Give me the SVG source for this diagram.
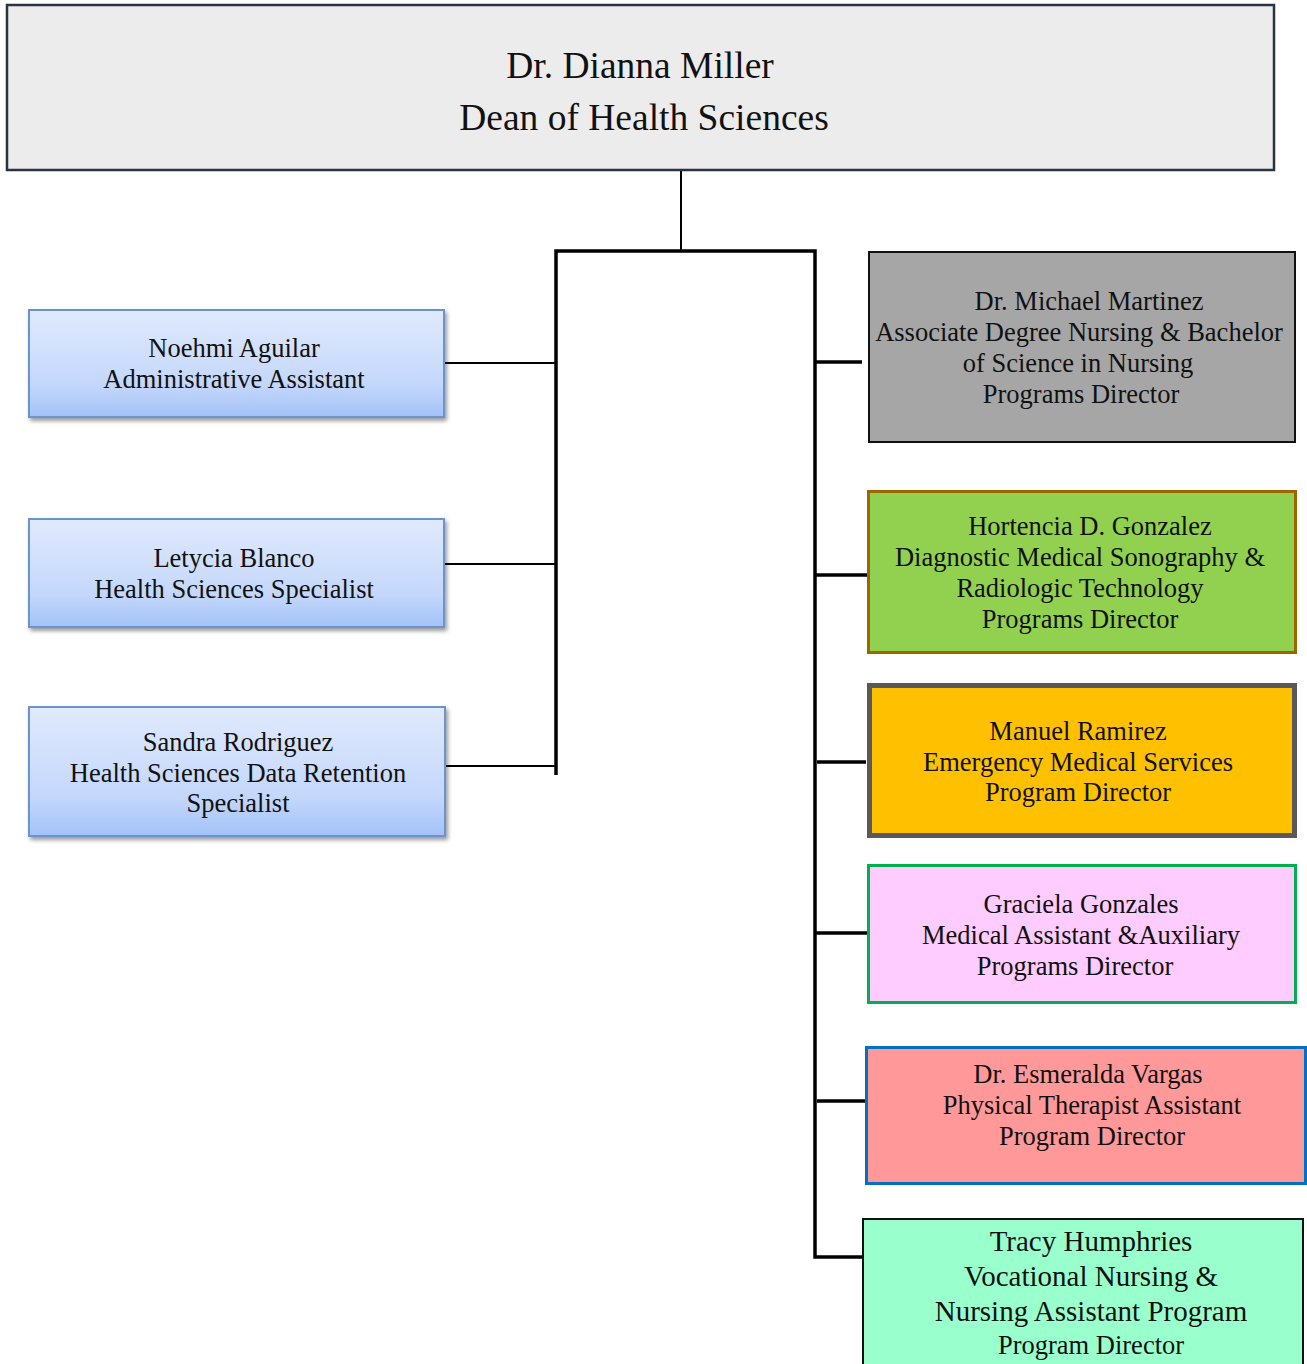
<svg xmlns="http://www.w3.org/2000/svg" width="1307" height="1364" viewBox="0 0 1307 1364">
<defs>
<linearGradient id="blueGrad" x1="0" y1="0" x2="0" y2="1">
<stop offset="0" stop-color="#e0eafd"/>
<stop offset="0.7" stop-color="#c4d7fb"/>
<stop offset="1" stop-color="#a3c2f8"/>
</linearGradient>
<filter id="shadow" x="-5%" y="-10%" width="115%" height="130%">
<feGaussianBlur in="SourceAlpha" stdDeviation="2"/>
<feOffset dx="2" dy="3" result="b"/>
<feComponentTransfer><feFuncA type="linear" slope="0.4"/></feComponentTransfer>
<feMerge><feMergeNode/><feMergeNode in="SourceGraphic"/></feMerge>
</filter>
</defs>
<style>
text{font-family:"Liberation Serif","Times New Roman",serif;fill:#111;text-anchor:middle;}
.t{font-size:26.5px;}
.big{font-size:37.5px;}
.t6{font-size:29px;}
.blue{fill:url(#blueGrad);stroke:#6b93d0;stroke-width:2;}
.thin{stroke:#000;stroke-width:2;fill:none;}
.thick{stroke:#000;stroke-width:3.5;fill:none;}
</style>
<rect width="1307" height="1364" fill="#fff"/>
<g id="connectors">
<line class="thin" x1="681" y1="170" x2="681" y2="251"/>
<polyline class="thick" points="556,775 556,251 815,251 815,1257 863,1257"/>
<line class="thin" x1="444" y1="363" x2="556" y2="363"/>
<line class="thin" x1="442" y1="564" x2="556" y2="564"/>
<line class="thin" x1="444" y1="766" x2="556" y2="766"/>
<line class="thick" x1="815" y1="362" x2="862" y2="362"/>
<line class="thick" x1="815" y1="575" x2="867" y2="575"/>
<line class="thick" x1="817" y1="762" x2="866" y2="762"/>
<line class="thick" x1="815" y1="933" x2="867" y2="933"/>
<line class="thick" x1="817" y1="1101" x2="865" y2="1101"/>
</g>
<g id="dean">
<rect x="7" y="5" width="1267" height="165" fill="#ececec" stroke="#2b3340" stroke-width="2.5"/>
<text class="big" x="640" y="78">Dr. Dianna Miller</text>
<text class="big" x="644" y="130">Dean of Health Sciences</text>
</g>
<g id="aguilar">
<rect class="blue" x="29" y="310" width="415" height="107" filter="url(#shadow)"/>
<text class="t" x="234" y="357">Noehmi Aguilar</text>
<text class="t" x="234" y="388">Administrative Assistant</text>
</g>
<g id="blanco">
<rect class="blue" x="29" y="519" width="415" height="108" filter="url(#shadow)"/>
<text class="t" x="234" y="567">Letycia Blanco</text>
<text class="t" x="234" y="598">Health Sciences Specialist</text>
</g>
<g id="rodriguez">
<rect class="blue" x="29" y="707" width="416" height="129" filter="url(#shadow)"/>
<text class="t" x="238" y="751">Sandra Rodriguez</text>
<text class="t" x="238" y="782">Health Sciences Data Retention</text>
<text class="t" x="238" y="812">Specialist</text>
</g>
<g id="martinez">
<rect x="869" y="252" width="426" height="190" fill="#a6a6a6" stroke="#111" stroke-width="2"/>
<text class="t" x="1089" y="310">Dr. Michael Martinez</text>
<text class="t" x="1079" y="341">Associate Degree Nursing &amp; Bachelor</text>
<text class="t" x="1078" y="372">of Science in Nursing</text>
<text class="t" x="1081" y="403">Programs Director</text>
</g>
<g id="gonzalez">
<rect x="868.5" y="491.5" width="427" height="161" fill="#92d050" stroke="#9c6500" stroke-width="3"/>
<text class="t" x="1090" y="535">Hortencia D. Gonzalez</text>
<text class="t" x="1080" y="566">Diagnostic Medical Sonography &amp;</text>
<text class="t" x="1080" y="597">Radiologic Technology</text>
<text class="t" x="1080" y="628">Programs Director</text>
</g>
<g id="ramirez">
<rect x="869.5" y="685.5" width="425" height="150" fill="#ffc000" stroke="#595959" stroke-width="5"/>
<text class="t" x="1078" y="740">Manuel Ramirez</text>
<text class="t" x="1078" y="771">Emergency Medical Services</text>
<text class="t" x="1078" y="801">Program Director</text>
</g>
<g id="gonzales">
<rect x="868.5" y="865.5" width="427" height="137" fill="#ffccff" stroke="#00b050" stroke-width="3"/>
<text class="t" x="1081" y="913">Graciela Gonzales</text>
<text class="t" x="1081" y="944">Medical Assistant &amp;Auxiliary</text>
<text class="t" x="1075" y="975">Programs Director</text>
</g>
<g id="vargas">
<rect x="866.5" y="1047.5" width="439" height="136" fill="#ff9999" stroke="#0070c0" stroke-width="3"/>
<text class="t" x="1088" y="1083">Dr. Esmeralda Vargas</text>
<text class="t" x="1092" y="1114">Physical Therapist Assistant</text>
<text class="t" x="1092" y="1145">Program Director</text>
</g>
<g id="humphries">
<rect x="863" y="1219" width="440" height="150" fill="#99ffcc" stroke="#111" stroke-width="2"/>
<text class="t6" x="1091" y="1251">Tracy Humphries</text>
<text class="t6" x="1091" y="1286">Vocational Nursing &amp;</text>
<text class="t6" x="1091" y="1321">Nursing Assistant Program</text>
<text class="t" x="1091" y="1354">Program Director</text>
</g>
</svg>
